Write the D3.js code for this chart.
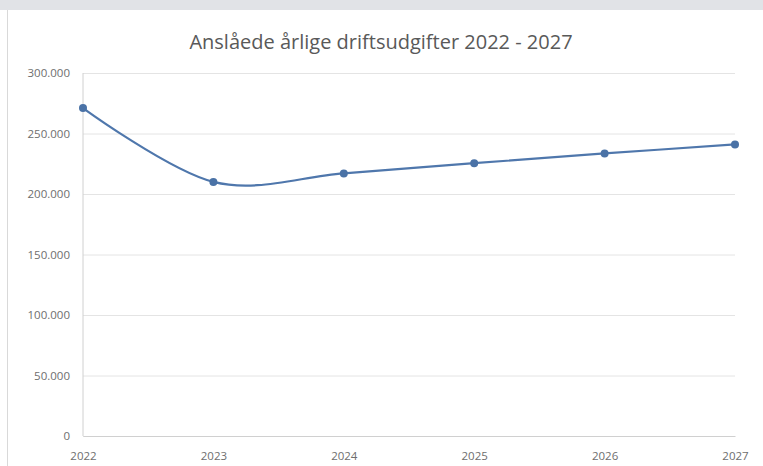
<!DOCTYPE html>
<html>
<head>
<meta charset="utf-8">
<script src="https://cdn.jsdelivr.net/npm/d3@7"></script>
<style>
  body { margin: 0; background: #fff; }
  svg { display: block; font-family: "Open Sans", "Noto Sans", sans-serif; }
</style>
</head>
<body>
<svg id="chart" width="763" height="466"></svg>
<script>
const years = ["2022", "2023", "2024", "2025", "2026", "2027"]
const costs = [271000, 210000, 217000, 225500, 233500, 241000]
const yTicks = [0, 50000, 100000, 150000, 200000, 250000, 300000]

const W = 763, H = 466
const margin = { top: 73, right: 28, bottom: 30, left: 83 }
const width = W - margin.left - margin.right
const height = H - margin.top - margin.bottom

const svg = d3.select("#chart")

// grey band at top and frame line on the left
svg.append("rect").attr("x", 0).attr("y", 0).attr("width", W).attr("height", 10).attr("fill", "#e1e3e7")
svg.append("line").attr("x1", 7.5).attr("x2", 7.5).attr("y1", 10).attr("y2", H).attr("stroke", "#d9d9d9")

svg.append("text")
  .attr("x", 381).attr("y", 49)
  .attr("text-anchor", "middle")
  .attr("font-size", 20)
  .attr("fill", "#595959")
  .text("Anslåede årlige driftsudgifter 2022 - 2027")

const g = svg.append("g").attr("transform", `translate(${margin.left},${margin.top})`)

const x = d3.scalePoint().domain(years).range([0, width])
const y = d3.scaleLinear().domain([0, 300000]).range([height, 0])

const fmt = d => d3.format(",")(d).replace(/,/g, ".")

// gridlines
g.append("g")
  .call(d3.axisLeft(y).tickValues(yTicks).tickSize(-width).tickFormat(fmt))
  .call(a => a.select(".domain").remove())
  .call(a => a.selectAll(".tick line").attr("stroke", "#e4e4e4"))
  .call(a => a.selectAll(".tick text").attr("x", -13).attr("fill", "#6e6e6e").attr("font-size", 11.5)
    .attr("font-family", "'Open Sans', sans-serif"))

// y axis line
g.append("line").attr("x1", 0).attr("x2", 0).attr("y1", 0).attr("y2", height).attr("stroke", "#d0d0d0")

g.append("g")
  .attr("transform", `translate(0,${height})`)
  .call(d3.axisBottom(x).tickSize(0).tickPadding(16))
  .call(a => a.select(".domain").attr("stroke", "#d0d0d0"))
  .call(a => a.selectAll(".tick text").attr("fill", "#6e6e6e").attr("font-size", 11.5)
    .attr("font-family", "'Open Sans', sans-serif"))

const line = d3.line()
  .x((d, i) => x(years[i]))
  .y(d => y(d))
  .curve(d3.curveCardinal.tension(0))

g.append("path")
  .datum(costs)
  .attr("fill", "none")
  .attr("stroke", "#4f77ac")
  .attr("stroke-width", 2.2)
  .attr("d", line)

g.selectAll(".pt")
  .data(costs)
  .enter()
  .append("circle")
  .attr("class", "pt")
  .attr("cx", (d, i) => x(years[i]))
  .attr("cy", d => y(d))
  .attr("r", 4)
  .attr("fill", "#4a72a6")
</script>
</body>
</html>
